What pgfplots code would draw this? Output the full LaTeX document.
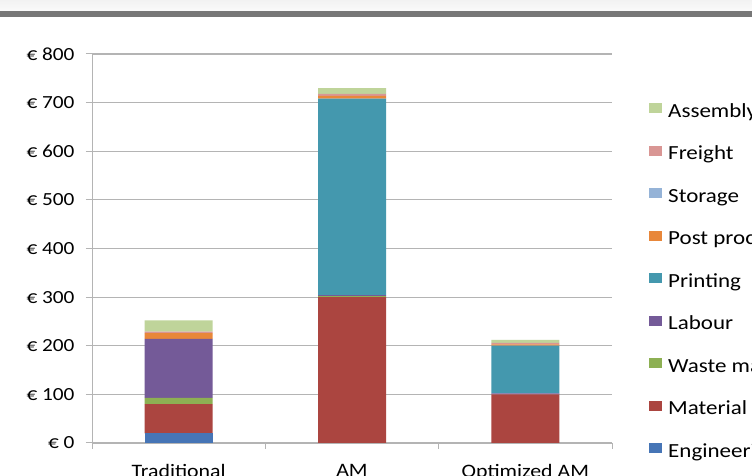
\documentclass[border=0pt]{standalone}
\usepackage{fontspec}
\setmainfont{Carlito}[FakeStretch=1.15]
\usepackage{pgfplots}
\pgfplotsset{compat=1.18}
\definecolor{cEng}{HTML}{4675B6}
\definecolor{cMat}{HTML}{AB4540}
\definecolor{cWaste}{HTML}{8DB053}
\definecolor{cLab}{HTML}{745A98}
\definecolor{cPrint}{HTML}{4498AE}
\definecolor{cPost}{HTML}{E8873A}
\definecolor{cStor}{HTML}{95B3D7}
\definecolor{cFreight}{HTML}{D99694}
\definecolor{cAss}{HTML}{BFD49A}
\definecolor{cGrid}{HTML}{B4B4B4}
\definecolor{cBar}{HTML}{777777}
\begin{document}
\begin{tikzpicture}
\useasboundingbox (0bp,0bp) rectangle (752bp,476bp);
\clip (0bp,0bp) rectangle (752bp,476bp);
\fill[white] (0bp,0bp) rectangle (752bp,476bp);
\shade[top color=gray!10, bottom color=gray!4] (0bp,465bp) rectangle (752bp,476bp);
\fill[cBar] (0bp,459bp) rectangle (752bp,465bp);
\begin{axis}[
  at={(92bp,33bp)}, anchor=south west,
  scale only axis, width=520bp, height=389bp,
  ybar stacked, bar width=68bp,
  xmin=-0.5, xmax=2.5, ymin=0, ymax=800,
  axis lines*=left,
  axis line style={draw=cGrid, line width=1bp},
  tick style={draw=cGrid, line width=1bp},
  tick align=outside, major tick length=6bp,
  ymajorgrids, grid style={draw=cGrid, line width=1.1bp},
  ytick={0,100,...,800},
  yticklabels={€ 0,€ 100,€ 200,€ 300,€ 400,€ 500,€ 600,€ 700,€ 800},
  yticklabel style={font=\fontsize{18.5bp}{20bp}\selectfont, xshift=-8bp},
  xtick={-0.5,0.5,1.5,2.5}, xticklabels={},
  extra x ticks={0,1,2},
  extra x tick labels={Traditional,AM,Optimized AM},
  extra x tick style={major tick length=0pt, grid=none,
     xticklabel style={font=\fontsize{19bp}{21bp}\selectfont, yshift=-18bp}},
  reverse legend,
  legend cell align=left,
  legend style={at={(1,1)}, anchor=north west, xshift=37bp, yshift=-49bp,
     draw=none, fill=none, inner sep=0pt, row sep=24.5bp,
     font=\fontsize{20bp}{22bp}\selectfont,
     nodes={inner sep=0pt, text height=14bp, text depth=4bp}},
  legend image code/.code={\fill[#1] (0bp,-1bp) rectangle (13bp,9bp); \path (19bp,0bp);},
]
\addplot[fill=cEng, draw=none] coordinates {(0,20) (1,0) (2,0)};
\addplot[fill=cMat, draw=none] coordinates {(0,60) (1,300) (2,100)};
\addplot[fill=cWaste, draw=none] coordinates {(0,13) (1,2) (2,0)};
\addplot[fill=cLab, draw=none] coordinates {(0,121) (1,2) (2,2)};
\addplot[fill=cPrint, draw=none] coordinates {(0,0) (1,404) (2,98)};
\addplot[fill=cPost, draw=none] coordinates {(0,12) (1,6) (2,3)};
\addplot[fill=cStor, draw=none] coordinates {(0,0) (1,0) (2,0)};
\addplot[fill=cFreight, draw=none] coordinates {(0,3) (1,4) (2,3)};
\addplot[fill=cAss, draw=none] coordinates {(0,23) (1,12) (2,6)};
\legend{Engineering,Material,Waste management,Labour,Printing,Post processing,Storage,Freight,Assembly}
\end{axis}
\end{tikzpicture}
\end{document}
